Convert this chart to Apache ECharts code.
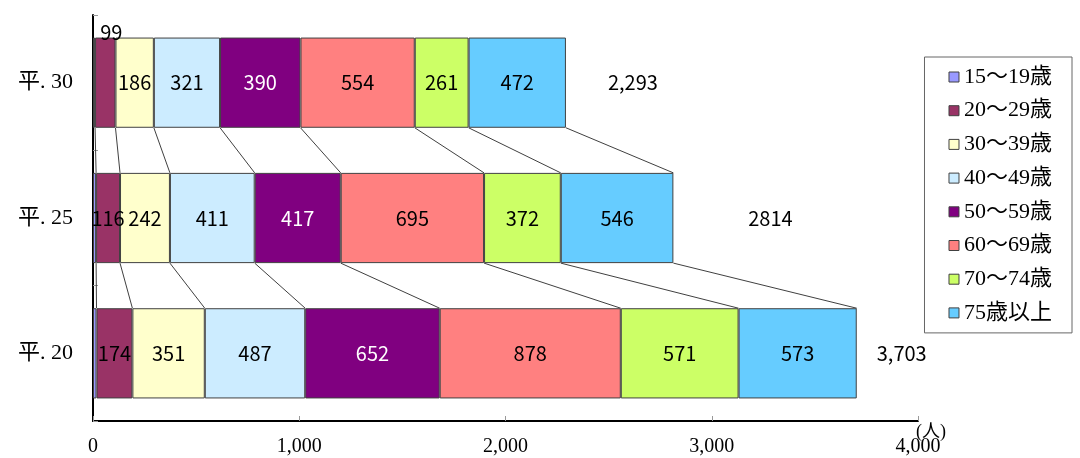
<!DOCTYPE html>
<html>
<head>
<meta charset="utf-8">
<script src="https://cdn.jsdelivr.net/npm/echarts@6/dist/echarts.min.js"></script>
<style>
html, body { margin: 0; padding: 0; background: #fff; }
#main { width: 1080px; height: 458px; }
</style>
</head>
<body>
<div id="main"></div>
<script>
// 年度（下から上）
var years = ['平. 20', '平. 25', '平. 30'];

// 年齢区分
var ageGroups = ['15～19歳', '20～29歳', '30～39歳', '40～49歳', '50～59歳', '60～69歳', '70～74歳', '75歳以上'];

// 各年齢区分の人数（平.20, 平.25, 平.30）
var age15_19 = [17, 15, 10];
var age20_29 = [174, 116, 99];
var age30_39 = [351, 242, 186];
var age40_49 = [487, 411, 321];
var age50_59 = [652, 417, 390];
var age60_69 = [878, 695, 554];
var age70_74 = [571, 372, 261];
var age75over = [573, 546, 472];

// 合計
var totals = [3703, 2814, 2293];
var totalLabels = ['3,703', '2814', '2,293'];

// x軸目盛
var xTicks = [0, 1000, 2000, 3000, 4000];

var colors = ['#9999FF', '#993366', '#FFFFCC', '#CCECFF', '#800080', '#FF8080', '#CCFF66', '#66CCFF'];
var totalLabelDx = [45, 97, 67];
var barRatio = 2 / 3;

var serifFont = "'Liberation Serif', 'Noto Sans CJK JP', serif";
var sansFont = "'Noto Sans CJK JP', sans-serif";

var allData = [age15_19, age20_29, age30_39, age40_49, age50_59, age60_69, age70_74, age75over];

// 積み上げ位置（各区分の右端）
var cum = [];
for (var c = 0; c < years.length; c++) {
    var s = 0;
    var row = [];
    for (var k = 0; k < allData.length; k++) {
        s += allData[k][c];
        row.push(s);
    }
    cum.push(row);
}

// 区分線のデータ
var linkData = [];
for (var c = 1; c < years.length; c++) {
    for (var k = 0; k < allData.length; k++) {
        linkData.push([cum[c][k], cum[c - 1][k], c, c - 1]);
    }
}

var series = [];
for (var i = 0; i < allData.length; i++) {
    var items = allData[i].map(function (v, idx) {
        // 平.30 の 20～29歳 は棒の上に表示
        if (i === 1 && idx === 2) {
            return {value: v, label: {position: 'top', distance: 0, offset: [6, 5]}};
        }
        return v;
    });
    series.push({
        name: ageGroups[i],
        type: 'bar',
        stack: 'total',
        barWidth: '66.67%',
        data: items,
        itemStyle: {
            color: colors[i],
            borderColor: '#404040',
            borderWidth: 1
        },
        label: {
            show: i !== 0,
            position: 'inside',
            color: i === 4 ? '#fff' : '#000',
            fontFamily: sansFont,
            fontSize: 20
        },
        emphasis: {disabled: true}
    });
}

// 区分線
series.push({
    type: 'custom',
    silent: true,
    data: linkData,
    encode: {x: [0, 1], y: 2},
    renderItem: function (params, api) {
        var bh = api.size([0, 1])[1] * barRatio / 2;
        var p1 = api.coord([api.value(0), api.value(2)]);
        var p2 = api.coord([api.value(1), api.value(3)]);
        return {
            type: 'line',
            shape: {x1: p1[0], y1: p1[1] + bh, x2: p2[0], y2: p2[1] - bh},
            style: {stroke: '#404040', lineWidth: 1}
        };
    }
});

// 合計ラベル
series.push({
    type: 'custom',
    silent: true,
    data: totals.map(function (v, idx) { return [v, idx]; }),
    encode: {x: 0, y: 1},
    renderItem: function (params, api) {
        var idx = params.dataIndex;
        var p = api.coord([api.value(0), api.value(1)]);
        return {
            type: 'text',
            style: {
                text: totalLabels[idx],
                x: p[0] + totalLabelDx[idx],
                y: p[1],
                align: 'center',
                verticalAlign: 'middle',
                fontFamily: sansFont,
                fontSize: 20,
                fill: '#000'
            }
        };
    }
});

var myChart = echarts.init(document.getElementById('main'));

var option = {
    animation: false,
    backgroundColor: '#fff',
    grid: {left: 93, right: 162, top: 15, bottom: 37, containLabel: false},
    legend: {
        data: ageGroups,
        orient: 'vertical',
        right: 8,
        top: 57,
        itemWidth: 10,
        itemHeight: 10,
        itemGap: 11.7,
        padding: [9, 20, 9, 24],
        borderColor: '#666',
        borderWidth: 1,
        icon: 'rect',
        itemStyle: {borderColor: '#404040', borderWidth: 1},
        textStyle: {fontFamily: serifFont, fontSize: 22, lineHeight: 22, color: '#000'}
    },
    xAxis: {
        type: 'value',
        min: xTicks[0],
        max: xTicks[xTicks.length - 1],
        interval: 1000,
        name: '(人)',
        nameLocation: 'end',
        nameGap: -2,
        nameMoveOverlap: false,
        nameTextStyle: {fontFamily: serifFont, fontSize: 18, color: '#000', verticalAlign: 'top', align: 'left', padding: [2, 0, 0, 0]},
        axisLine: {show: true, lineStyle: {color: '#000', width: 2}},
        axisTick: {show: true, inside: true, length: 5, lineStyle: {color: '#999'}},
        splitLine: {show: false},
        axisLabel: {
            fontFamily: serifFont,
            fontSize: 20,
            color: '#000',
            margin: 16,
            formatter: function (v) { return v.toLocaleString('en-US'); }
        }
    },
    yAxis: {
        type: 'category',
        data: years,
        axisLine: {show: true, lineStyle: {color: '#000', width: 2}},
        axisTick: {show: true, inside: true, length: 5, lineStyle: {color: '#999'}},
        axisLabel: {fontFamily: serifFont, fontSize: 22, color: '#000', margin: 20}
    },
    series: series
};

myChart.setOption(option);
</script>
</body>
</html>
